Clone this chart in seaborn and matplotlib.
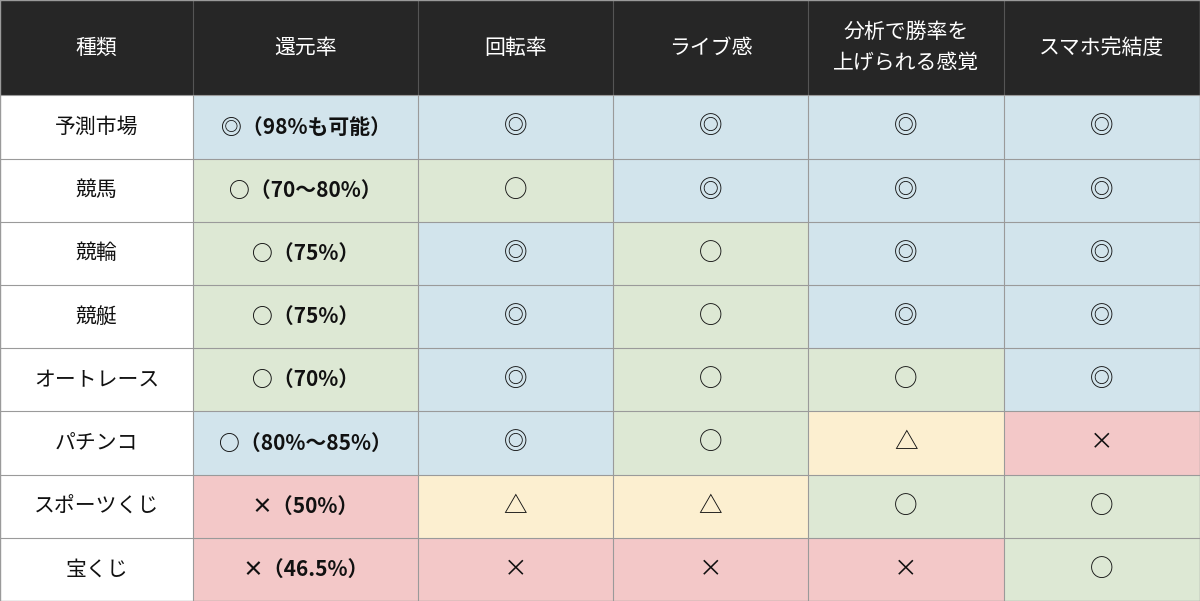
import numpy as np
import matplotlib
matplotlib.use("Agg")
import matplotlib.pyplot as plt
import seaborn as sns
from matplotlib.colors import ListedColormap

headers = ["種類", "還元率", "回転率", "ライブ感", "分析で勝率を\n上げられる感覚", "スマホ完結度"]
kinds = ["予測市場", "競馬", "競輪", "競艇", "オートレース", "パチンコ", "スポーツくじ", "宝くじ"]
rate_text = ["◎（98%も可能）", "○（70〜80%）", "○（75%）", "○（75%）", "○（70%）", "○（80%〜85%）", "×（50%）", "×（46.5%）"]
rate_sym = ["◎", "○", "○", "○", "○", "◎", "×", "×"]
turnover = ["◎", "○", "◎", "◎", "◎", "◎", "△", "×"]
live = ["◎", "◎", "○", "○", "○", "○", "△", "×"]
analysis = ["◎", "◎", "◎", "◎", "○", "△", "○", "×"]
mobile = ["◎", "◎", "◎", "◎", "◎", "×", "○", "○"]

col_w = [193, 225, 195, 195, 196, 196]
head_h = 95
row_h = 63
sym_code = {"◎": 2, "○": 3, "△": 4, "×": 5}

sns.set_theme(style="white")
plt.rcParams['font.family'] = ['Noto Sans CJK JP', 'DejaVu Sans']

cols = [rate_sym, turnover, live, analysis, mobile]
codes = np.zeros((1 + len(kinds), 6), dtype=int)
codes[0, :] = 1
for i in range(len(kinds)):
    codes[i + 1, 0] = 0
    for j, c in enumerate(cols):
        codes[i + 1, j + 1] = sym_code[c[i]]
rh = [head_h] + [row_h] * len(kinds)
mat = np.repeat(np.repeat(codes, rh, axis=0), col_w, axis=1)

cmap = ListedColormap(["#ffffff", "#262626", "#d2e4ec", "#dde8d4", "#fcefd0", "#f3c8c8"])
fig = plt.figure(figsize=(12, 6.01), dpi=100)
ax = fig.add_axes([0, 0, 1, 1])
sns.heatmap(mat, cmap=cmap, vmin=-0.5, vmax=5.5, cbar=False, ax=ax,
            xticklabels=False, yticklabels=False, rasterized=True)
H, W = mat.shape
xe = np.concatenate([[0], np.cumsum(col_w)])
ye = np.concatenate([[0], np.cumsum(rh)])
for x in xe[1:-1]:
    ax.plot([x, x], [0, head_h], color="#555555", lw=0.8)
    ax.plot([x, x], [head_h, H], color="#9a9a9a", lw=0.8)
for y in ye[1:-1]:
    ax.plot([0, W], [y, y], color="#9a9a9a", lw=0.8)
ax.plot([0, W, W, 0, 0], [0, 0, H, H, 0], color="#9a9a9a", lw=1)

xc = (xe[:-1] + xe[1:]) / 2
yc = (ye[:-1] + ye[1:]) / 2
for j, h in enumerate(headers):
    ax.text(xc[j], yc[0], h, color="white", ha="center", va="center", fontsize=15, linespacing=1.5)
for i in range(len(kinds)):
    y = yc[i + 1]
    ax.text(xc[0], y, kinds[i], ha="center", va="center", fontsize=15, color="#111111")
    ax.text(xc[1], y, rate_text[i], ha="center", va="center", fontsize=15, color="#111111", fontweight="bold")
    for j, c in enumerate(cols[1:]):
        ax.text(xc[j + 2], y, c[i], ha="center", va="center", fontsize=17, color="#111111")
ax.set_xlim(0, W)
ax.set_ylim(H, 0)
ax.axis("off")
fig.savefig("out.png", dpi=100)
